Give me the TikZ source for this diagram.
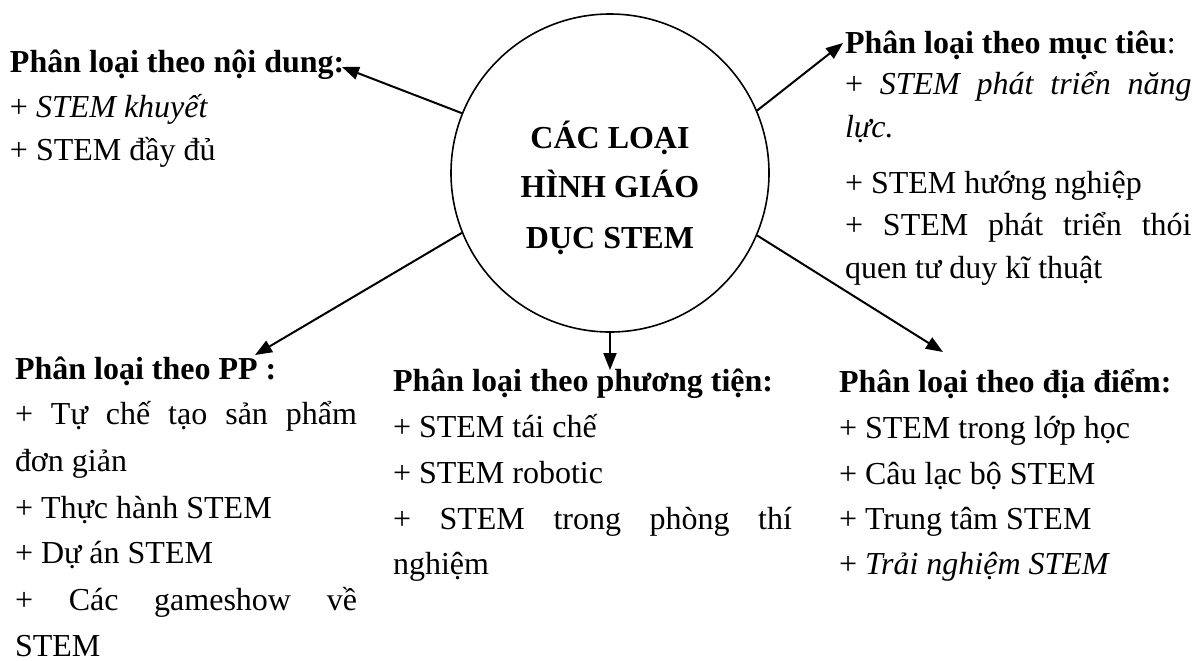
\documentclass[tikz,border=0pt]{standalone}
\usepackage{fontspec}
\setmainfont{Liberation Serif}
\usetikzlibrary{arrows.meta}
\newcommand\myfs{\fontsize{16pt}{21pt}\selectfont}
\newcommand\jl[2]{\makebox[#1][s]{#2}}
\begin{document}
\begin{tikzpicture}[x=0.5pt,y=-0.5pt,
  ln/.style={anchor=base west,inner sep=0pt,outer sep=0pt,font=\myfs},
  hd/.style={ln,font=\myfs\bfseries},
  ctr/.style={anchor=base,inner sep=0pt,font=\myfs\bfseries},
  arr/.style={line width=1pt,-{Triangle[length=8.5pt,width=6.5pt]}},
]
\useasboundingbox (0,0) rectangle (1194,660);
% hub
\node[circle,draw,line width=0.8pt,minimum size=159pt,inner sep=0pt] (hub) at (610,173) {};
\node[ctr] (t1) at (610,148) {CÁC LOẠI};
\node[ctr] (t2) at (610,197) {HÌNH GIÁO};
\node[ctr] (t3) at (610,248) {DỤC STEM};
% block A
\node[hd] (a0) at (10,72) {Phân loại theo nội dung:};
\node[ln] (a1) at (10,117) {+ \textit{STEM khuyết}};
\node[ln] (a2) at (10,160) {+ STEM đầy đủ};
% block B
\node[hd] (b0) at (845,53) {Phân loại theo mục tiêu\textmd{:}};
\node[ln] (b1) at (845,94) {\jl{173.3pt}{+ \textit{STEM phát triển năng}}};
\node[ln] (b2) at (845,137) {\textit{lực.}};
\node[ln] (b3) at (845,193) {+ STEM hướng nghiệp};
\node[ln] (b4) at (845,235) {\jl{173.3pt}{+ STEM phát triển thói}};
\node[ln] (b5) at (845,278) {quen tư duy kĩ thuật};
% block C
\node[hd] (c0) at (15,379) {Phân loại theo PP :};
\node[ln] (c1) at (15,424) {\jl{171pt}{+ Tự chế tạo sản phẩm}};
\node[ln] (c2) at (15,471) {đơn giản};
\node[ln] (c3) at (15,518) {+ Thực hành STEM};
\node[ln] (c4) at (15,563) {+ Dự án STEM};
\node[ln] (c5) at (15,610) {\jl{171pt}{+ Các gameshow về}};
\node[ln] (c6) at (15,656) {STEM};
% block D
\node[hd] (d0) at (393,391) {Phân loại theo phương tiện:};
\node[ln] (d1) at (393,437) {+ STEM tái chế};
\node[ln] (d2) at (393,483) {+ STEM robotic};
\node[ln] (d3) at (393,529) {\jl{199.5pt}{+ STEM trong phòng thí}};
\node[ln] (d4) at (393,574) {nghiệm};
% block E
\node[hd] (e0) at (839,392) {Phân loại theo địa điểm:};
\node[ln] (e1) at (839,438) {+ STEM trong lớp học};
\node[ln] (e2) at (839,484) {+ Câu lạc bộ STEM};
\node[ln] (e3) at (839,529) {+ Trung tâm STEM};
\node[ln] (e4) at (839,574) {+ \textit{Trải nghiệm STEM}};
% arrow tips
\coordinate (pA) at (342,67);
\coordinate (pB) at (843,43);
\coordinate (pC) at (255,355);
\coordinate (pD) at (610,370);
\coordinate (pE) at (943,352);
\draw[arr] (hub.158.6) -- (pA);
\draw[arr] (hub.23.8) -- (pB);
\draw[arr] (hub.202.8) -- (pC);
\draw[arr] (hub.south) -- (pD);
\draw[arr] (hub.337.1) -- (pE);
\end{tikzpicture}
\end{document}
